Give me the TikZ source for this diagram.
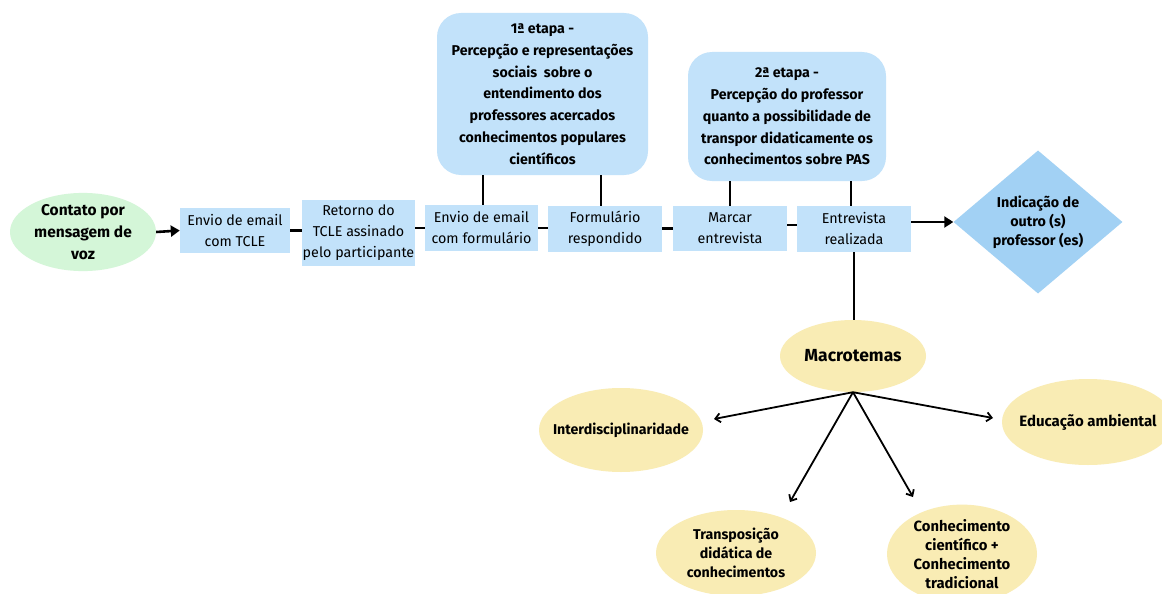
\documentclass[tikz,border=0pt]{standalone}
\usepackage{fontspec}
\setmainfont{Fira Sans}
\usetikzlibrary{shapes.geometric,arrows.meta}

\definecolor{boxblue}{HTML}{C2E2FA}
\definecolor{diamondblue}{HTML}{A2D1F4}
\definecolor{startgreen}{HTML}{D4F6D8}
\definecolor{themeyellow}{HTML}{F9ECB4}

\tikzset{
  flowbox/.style={rectangle, fill=boxblue, inner sep=0pt, align=center,
    font=\fontsize{14.3}{21}\selectfont},
  stagebox/.style={rectangle, fill=boxblue, rounded corners=24pt, inner sep=0pt,
    align=center, font=\fontsize{14.2}{21.8}\selectfont\bfseries},
  theme/.style={ellipse, fill=themeyellow, inner sep=0pt, align=center,
    font=\fontsize{14.2}{19}\selectfont\bfseries},
  link/.style={line width=2.8pt},
  stem/.style={line width=2.2pt},
  flowarrow/.style={line width=2.6pt, -{Triangle[length=9pt,width=11pt]}},
  branch/.style={line width=1.8pt, -{Straight Barb[length=5pt,width=9pt]}}
}

\begin{document}
\begin{tikzpicture}[x=1pt,y=-1pt]
\path[use as bounding box] (0,0) rectangle (1162,594);
\clip (0,0) rectangle (1162,594);
\fill[white] (0,0) rectangle (1162,594);

% start of the flow
\node[ellipse, fill=startgreen, minimum width=146pt, minimum height=78pt,
  inner sep=0pt, align=center, font=\fontsize{15.5}{22}\selectfont\bfseries]
  (start) at (83,232) {Contato por\\mensagem de\\voz};

% main row of steps
\node[flowbox, minimum width=110pt, minimum height=45pt] (b1) at (235,230.5) {Envio de email\\com TCLE};
\node[flowbox, minimum width=113pt, minimum height=66pt] (b2) at (358.5,233) {Retorno do\\TCLE assinado\\pelo participante};
\node[flowbox, minimum width=113pt, minimum height=46pt] (b3) at (481.5,228) {Envio de email\\com formulário};
\node[flowbox, minimum width=114pt, minimum height=46pt] (b4) at (605,229) {Formulário\\respondido};
\node[flowbox, minimum width=114pt, minimum height=45pt] (b5) at (730,228.5) {Marcar\\entrevista};
\node[flowbox, minimum width=114pt, minimum height=46pt] (b6) at (854,229) {Entrevista\\realizada};

% stages
\node[stagebox, minimum width=211pt, minimum height=162pt] (t1) at (542.5,94)
  {1ª etapa -\\Percepção e representações\\sociais\ \ sobre o\\entendimento dos\\professores acercados\\conhecimentos populares\\científicos};
\node[stagebox, minimum width=198pt, minimum height=129pt] (t2) at (787,116.5)
  {2ª etapa -\\Percepção do professor\\quanto a possibilidade de\\transpor didaticamente os\\conhecimentos sobre PAS};

% outcome
\node[diamond, fill=diamondblue, minimum width=169pt, minimum height=143pt,
  inner sep=0pt, align=center, font=\fontsize{14.3}{19}\selectfont\bfseries]
  (ind) at (1038,222) {Indicação de\\outro (s)\\professor (es)};

% themes
\node[ellipse, fill=themeyellow, minimum width=146pt, minimum height=72pt,
  inner sep=0pt, font=\fontsize{17.5}{20}\selectfont\bfseries] (macro) at (853,356) {Macrotemas};
\node[theme, minimum width=164pt, minimum height=84pt, inner xsep=-12pt] (inter) at (621,430) {Interdisciplinaridade};
\node[theme, minimum width=172pt, minimum height=86pt, inner xsep=-16pt,
  font=\fontsize{15}{19}\selectfont\bfseries] (edu) at (1088,422) {Educação ambiental};
\node[theme, minimum width=160pt, minimum height=86pt] (trans) at (736,553) {Transposição\\didática de\\conhecimentos};
\node[theme, minimum width=150pt, minimum height=96pt, font=\fontsize{14.8}{19.2}\selectfont\bfseries] (conh) at (962,554) {Conhecimento\\científico +\\Conhecimento\\tradicional};

% connectors of the main row
\draw[flowarrow] (start.east) -- (b1.west);
\draw[link] (b1.east) -- (b1.east -| b2.west);
\draw[link] (b2.east |- b3.west) -- (b3.west);
\draw[link] (b3.east) -- (b3.east -| b4.west);
\draw[link] (b4.east |- b5.west) -- (b5.west);
\draw[link] (b5.east |- 0,225) -- (b6.west |- 0,225);
\draw[flowarrow] (b6.east |- ind) -- (ind.west);

% stages attached to the steps
\draw[stem] (b3.north -| 483,0) -- (t1.south -| 483,0);
\draw[stem] (b4.north -| 601,0) -- (t1.south -| 601,0);
\draw[stem] (b5.north) -- (t2.south -| b5);
\draw[stem] (b6.north -| 851,0) -- (t2.south -| 851,0);

% interview results
\draw[stem] (b6.south) -- (macro.north -| b6.south);
\coordinate (tipI) at (714,419);
\coordinate (tipE) at (993,418);
\coordinate (tipT) at (790,502);
\coordinate (tipC) at (913,497);
\draw[branch] (macro.south) -- (tipI);
\draw[branch] (macro.south) -- (tipE);
\draw[branch] (macro.south) -- (tipT);
\draw[branch] (macro.south) -- (tipC);
\end{tikzpicture}
\end{document}
